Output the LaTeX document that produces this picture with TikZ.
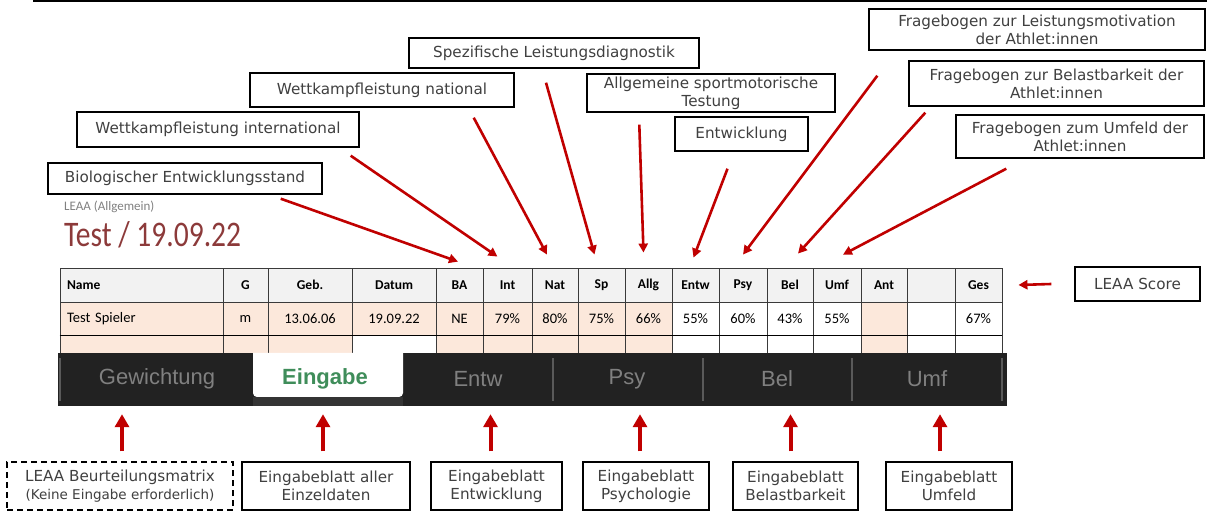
\documentclass[tikz,border=0pt]{standalone}
\usepackage{fontspec}
\setmainfont{DejaVu Sans}
\newfontfamily\calfont{Carlito}
\newfontfamily\tabfont{Liberation Sans}
\usetikzlibrary{arrows.meta,positioning}
\definecolor{leaared}{HTML}{C00000}
\definecolor{boxtext}{HTML}{404040}
\definecolor{peach}{HTML}{FCE8DB}
\definecolor{headgray}{HTML}{F2F2F2}
\definecolor{cellline}{HTML}{3A3A3A}
\definecolor{bardark}{HTML}{222222}
\definecolor{barstrip}{HTML}{343434}
\definecolor{tabgray}{HTML}{808080}
\definecolor{tabsep}{HTML}{5A5A5A}
\definecolor{tabgreen}{HTML}{3F8D5A}
\definecolor{titlered}{HTML}{8C3A3A}
\tikzset{
    %Define style for label boxes
    lbl/.style={
           rectangle,
           draw=black, line width=1.4pt,
           fill=white,
           text=boxtext,
           inner sep=2pt,
           align=center,
           font=\fontsize{15.2}{18}\selectfont},
    %Dashed variant
    lbldash/.style={
           lbl,
           dash pattern=on 6pt off 4pt},
    %Table cells
    hcell/.style={
           rectangle,
           draw=cellline, line width=0.8pt,
           fill=headgray,
           inner sep=0pt,
           minimum height=34pt,
           font=\calfont\bfseries\fontsize{13.5}{15}\selectfont},
    vcell/.style={
           hcell,
           minimum height=33pt,
           font=\calfont\fontsize{14.5}{16}\selectfont},
    %Tab labels
    tab/.style={
           text=tabgray,
           inner sep=0pt,
           font=\tabfont\fontsize{22}{24}\selectfont},
    % Define arrow styles
    arrow/.style={
           -{Triangle[length=9pt,width=9pt]},
           draw=leaared, line width=2.6pt},
    uparrow/.style={
           -{Triangle[length=13pt,width=14pt]},
           draw=leaared, line width=4pt},
}
\begin{document}
\begin{tikzpicture}[x=1pt,y=-1pt]
\useasboundingbox (0,0) rectangle (1207,518);
\draw[line width=2pt] (33,1) -- (1207,1);

% Beschriftungen oben
\node[lbl, minimum width=274pt, minimum height=31pt] (bio)    at (185,178.5)  {Biologischer Entwicklungsstand};
\node[lbl, minimum width=282pt, minimum height=35pt] (intl)   at (218,129.5)  {Wettkampfleistung international};
\node[lbl, minimum width=264pt, minimum height=34pt] (nat)    at (382,90)     {Wettkampfleistung national};
\node[lbl, minimum width=290pt, minimum height=30pt] (spez)   at (554,53)     {Spezifische Leistungsdiagnostik};
\node[lbl, minimum width=248pt, minimum height=38pt] (allg)   at (711,93)     {Allgemeine sportmotorische\\Testung};
\node[lbl, minimum width=133pt, minimum height=34pt] (entw)   at (741.5,134)  {Entwicklung};
\node[lbl, minimum width=336pt, minimum height=41pt] (motiv)  at (1037,29.5)  {Fragebogen zur Leistungsmotivation\\der Athlet:innen};
\node[lbl, minimum width=295pt, minimum height=45pt] (belast) at (1056.5,83.5) {Fragebogen zur Belastbarkeit der\\Athlet:innen};
\node[lbl, minimum width=248pt, minimum height=43pt] (umfeld) at (1080,136.5)  {Fragebogen zum Umfeld der\\Athlet:innen};
\node[lbl, minimum width=125pt, minimum height=34pt] (score)  at (1137.5,284)  {LEAA Score};

% Tabelle
\node[anchor=west, inner sep=0pt, text=tabgray, font=\calfont\fontsize{13}{15}\selectfont] (sheet) at (64,207) {LEAA (Allgemein)};
\node[anchor=base west, inner sep=0pt, text=titlered, xscale=0.82, font=\calfont\fontsize{36}{38}\selectfont] (title) at (64,247) {Test / 19.09.22};

\node[hcell, minimum width=163pt, text width=149pt, align=left] (hName) at (141.5,285) {Name};
\node[vcell, fill=peach, minimum width=163pt, text width=149pt, align=left] (vName) at (141.5,318.5) {Test Spieler};
\fill[peach] (60,335) rectangle (223,353);
\foreach \xa/\xb/\nm/\hd/\val/\fa/\fb in {223/268/G/G/m/peach/peach, 268/352/Geb/Geb./13.06.06/peach/peach,
    352/436/Datum/Datum/19.09.22/peach/white, 436/483/BA/BA/NE/peach/peach, 483/532/Int/Int/79\%/peach/peach,
    532/578/Nat/Nat/80\%/peach/peach, 578/625/Sp/Sp/75\%/peach/peach, 625/672/Allg/Allg/66\%/peach/peach,
    672/719/Entw/Entw/55\%/white/white, 719/767/Psy/Psy/60\%/white/white, 767/813/Bel/Bel/43\%/white/white,
    813/861/Umf/Umf/55\%/white/white, 861/907/Ant/Ant//peach/peach, 907/955/Leer///white/white,
    955/1002/Ges/Ges/67\%/white/white}{
  \node[hcell, minimum width={(\xb-\xa)*1pt}] (h\nm) at ({(\xa+\xb)/2},285) {\hd};
  \node[vcell, fill=\fa, minimum width={(\xb-\xa)*1pt}] (v\nm) at ({(\xa+\xb)/2},318.5) {\val};
  \fill[\fb] (\xa,335) rectangle (\xb,353);
}
\foreach \x in {60,223,268,352,436,483,532,578,625,672,719,767,813,861,907,955,1002}
  \draw[cellline, line width=0.8pt] (\x,335) -- (\x,353);
\draw[line width=1.4pt] (vName.south west) -- (vGes.south east);

% Reiter
\node[fill=bardark, minimum width=949pt, minimum height=53pt, inner sep=0pt] (bar) at (532.5,379.5) {};
\fill[white] (253,353) [rounded corners=4pt] -- (253,397) -- (403,397) [sharp corners] -- (403,353) -- cycle;
\fill[barstrip] (253,397) rectangle (403,406);
\foreach \x in {60,553,703,852,1002}
  \draw[tabsep, line width=1.5pt] (\x,358) -- (\x,401);
\node[tab] (tGew)  at (157,379) {Gewichtung};
\node[tab, text=tabgreen, font=\tabfont\bfseries\fontsize{22}{24}\selectfont] (tEin) at (325,379) {Eingabe};
\node[tab] (tEntw) at (478,379) {Entw};
\node[tab] (tPsy)  at (627,379) {Psy};
\node[tab] (tBel)  at (777,379) {Bel};
\node[tab] (tUmf)  at (927,379) {Umf};

% Beschriftungen unten
\node[lbldash, minimum width=226pt, minimum height=48pt] (matrix) at (120,486) {LEAA Beurteilungsmatrix\\{\fontsize{13.5}{16}\selectfont(Keine Eingabe erforderlich)}};
\node[lbl, minimum width=168pt, minimum height=48pt] (alle)  at (326,486)   {Eingabeblatt aller\\Einzeldaten};
\node[lbl, minimum width=131pt, minimum height=48pt] (entwb) at (496.5,486) {Eingabeblatt\\Entwicklung};
\node[lbl, minimum width=126pt, minimum height=48pt] (psyb)  at (646,486)   {Eingabeblatt\\Psychologie};
\node[lbl, minimum width=125pt, minimum height=48pt] (belb)  at (795.5,486) {Eingabeblatt\\Belastbarkeit};
\node[lbl, minimum width=126pt, minimum height=48pt] (umfb)  at (949,486)   {Eingabeblatt\\Umfeld};

% Pfeile zur Tabelle
\draw[arrow] ([xshift=-42pt,yshift=-4pt]bio.south east)   -- ([xshift=-1.5pt,yshift=6pt]hBA.north);
\draw[arrow] ([xshift=-9pt,yshift=-8pt]intl.south east)   -- ([xshift=-10pt,yshift=11pt]hInt.north);
\draw[arrow] ([xshift=-41pt,yshift=-10pt]nat.south east)  -- ([xshift=-8pt,yshift=13pt]hNat.north);
\draw[arrow] ([xshift=-8pt,yshift=-14pt]spez.south)       -- ([xshift=-7pt,yshift=13pt]hSp.north);
\draw[arrow] ([xshift=53pt,yshift=-12pt]allg.south west)  -- ([xshift=-5pt,yshift=15pt]hAllg.north);
\draw[arrow] ([xshift=-14pt,yshift=-17pt]entw.south)      -- ([xshift=-2pt,yshift=10pt]hEntw.north);
\draw[arrow] ([xshift=9pt,yshift=-25pt]motiv.south west)  -- ([yshift=13pt]hPsy.north);
\draw[arrow] ([xshift=17pt,yshift=-6pt]belast.south west) -- ([xshift=8pt,yshift=14pt]hBel.north);
\draw[arrow] ([xshift=51pt,yshift=-10pt]umfeld.south west) -- ([xshift=6pt,yshift=13pt]hUmf.north);
\draw[arrow] ([xshift=-23pt]score.west) -- ([xshift=16pt]hGes.east);

% Pfeile zu den Reitern
\draw[uparrow] ([xshift=2pt,yshift=10pt]matrix.north)  -- ([xshift=2pt,yshift=-8pt]matrix.north |- bar.south);
\draw[uparrow] ([xshift=-3pt,yshift=10pt]alle.north)   -- ([xshift=-3pt,yshift=-8pt]alle.north |- bar.south);
\draw[uparrow] ([xshift=-6pt,yshift=10pt]entwb.north)  -- ([xshift=-6pt,yshift=-8pt]entwb.north |- bar.south);
\draw[uparrow] ([xshift=-6pt,yshift=10pt]psyb.north)   -- ([xshift=-6pt,yshift=-8pt]psyb.north |- bar.south);
\draw[uparrow] ([xshift=-5pt,yshift=10pt]belb.north)   -- ([xshift=-5pt,yshift=-8pt]belb.north |- bar.south);
\draw[uparrow] ([xshift=-9pt,yshift=10pt]umfb.north)   -- ([xshift=-9pt,yshift=-8pt]umfb.north |- bar.south);
\end{tikzpicture}
\end{document}
